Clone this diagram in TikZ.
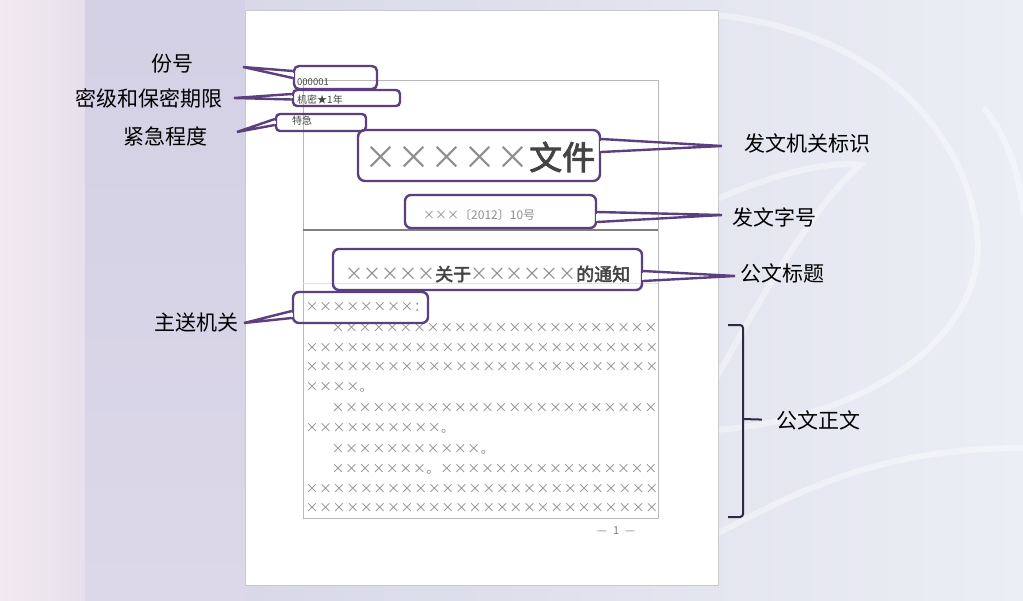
\documentclass[tikz,border=0pt]{standalone}
\usepackage{fontspec}
\setmainfont{Noto Sans CJK SC}
\newfontfamily\cjkbold[FakeBold=2.5]{Noto Sans CJK SC}
\usetikzlibrary{calc}
\definecolor{callpurple}{HTML}{5B3F7E}
\definecolor{bracecol}{HTML}{2E2844}
\definecolor{xgray}{HTML}{8E8E8E}
\definecolor{docdark}{HTML}{444444}
\definecolor{framegray}{HTML}{B8B8B8}
\newcommand\xs[1]{\foreach \k in {1,...,#1}{\makebox[13.6pt]{×}}}
\newcommand\jh{\makebox[13.6pt][l]{。}}
\newcommand\ind{\hspace*{26pt}}
\tikzset{
  lbl/.style={inner sep=0pt, text=black, font=\fontsize{21}{25}\selectfont},
  cbox/.style={draw=callpurple, line width=2.4pt, rounded corners=5pt, inner sep=0pt},
  cline/.style={draw=callpurple, line width=2.4pt, line join=miter},
  cover/.style={draw=white, line width=3pt},
  body/.style={anchor=west, inner sep=0pt, text=xgray, font=\fontsize{13}{14}\selectfont},
  smalltxt/.style={anchor=west, inner sep=0pt, text=docdark},
  frameline/.style={draw=framegray, line width=0.8pt},
  swirl/.style={draw=white, line width=6pt, opacity=0.4, line cap=round}
}
\begin{document}
\begin{tikzpicture}[x=1pt,y=-1pt]
\useasboundingbox (0,0) rectangle (1023,600);
% background
\fill[color={rgb,255:red,227;green,227;blue,238}] (0,0) rectangle (1023,600);
\shade[left color={rgb,255:red,243;green,234;blue,240}, right color={rgb,255:red,231;green,224;blue,236}] (0,0) rectangle (85,600);
\shade[top color={rgb,255:red,212;green,208;blue,229}, bottom color={rgb,255:red,220;green,216;blue,233}] (85,0) rectangle (245,600);
\shade[left color={rgb,255:red,216;green,216;blue,231}, right color={rgb,255:red,236;green,238;blue,245}] (245,0) rectangle (1023,600);
% swirls
\draw[swirl] (700,14) .. controls (850,22) and (960,110) .. (977,230) .. controls (990,340) and (860,420) .. (715,430);
\draw[swirl] (715,380) .. controls (760,300) and (810,210) .. (860,165) .. controls (820,160) and (760,180) .. (715,200);
\draw[swirl] (715,535) .. controls (800,490) and (880,448) .. (1023,448);
\draw[swirl] (985,110) .. controls (1010,140) and (1020,180) .. (1023,210);
% paper
\fill[white] (245,10) rectangle (718,585);
\draw[color={rgb,255:red,200;green,200;blue,205}, line width=0.6pt] (245,10) rectangle (718,585);
% inner frame
\draw[frameline] (303,80) rectangle (658,518);
\draw[draw=gray, line width=1.3pt] (303,230) -- (658,230);
\draw[draw={rgb,255:red,225;green,225;blue,225}, line width=0.6pt] (303,283) -- (658,283);
% header texts
\node[smalltxt, font=\fontsize{9.5}{10}\selectfont] (t1) at (297,82) {000001};
\node[smalltxt, font=\fontsize{10}{11}\selectfont] (t2) at (297,100) {机密★1年};
\node[smalltxt, font=\fontsize{10}{11}\selectfont] (t3) at (292,121) {特急};
\node[anchor=west, inner sep=0pt, font=\fontsize{33}{36}\selectfont] (t4) at (364,157)
  {\textcolor{xgray}{\foreach \k in {1,...,5}{\makebox[33pt]{×}}}\textcolor{docdark}{\cjkbold 文件}};
\node[smalltxt, text=xgray, font=\fontsize{12}{13}\selectfont] (t5) at (423,215) {×××〔2012〕10号};
\node[anchor=west, inner sep=0pt, font=\fontsize{18}{20}\selectfont] (t6) at (345,274)
  {\textcolor{xgray}{\foreach \k in {1,...,5}{\makebox[18pt]{×}}}\textcolor{docdark}{\cjkbold 关于}\textcolor{xgray}{\foreach \k in {1,...,6}{\makebox[17.5pt]{×}}}\textcolor{docdark}{\cjkbold 的通知}};
\node[body] (t7) at (305,307) {\xs{8}：};
% body
\node[body] (r1) at (305,328) {\ind\xs{24}};
\node[body] (r2) at (305,348) {\xs{26}};
\node[body] (r3) at (305,367) {\xs{26}};
\node[body] (r4) at (305,387) {\xs{4}\jh};
\node[body] (r5) at (305,408) {\ind\xs{24}};
\node[body] (r6) at (305,428) {\xs{10}\jh};
\node[body] (r7) at (305,449) {\ind\xs{11}\jh};
\node[body] (r8) at (305,469) {\ind\xs{7}\jh\xs{16}};
\node[body] (r9) at (305,489) {\xs{26}};
\node[body] (r10) at (305,508) {\xs{26}};
\node[smalltxt, text=gray, font=\fontsize{11}{12}\selectfont] (pg) at (597,531) {—\hspace{6pt}1\hspace{6pt}—};
% labels
\node[lbl] (lfen) at (172,64) {份号};
\node[lbl] (lmi) at (149,98) {密级和保密期限};
\node[lbl] (ljin) at (165,136) {紧急程度};
\node[lbl] (lfa) at (807,143) {发文机关标识};
\node[lbl] (lzi) at (774,217) {发文字号};
\node[lbl] (lbt) at (782,273) {公文标题};
\node[lbl] (lzs) at (196,323) {主送机关};
\node[lbl] (lzw) at (818,420) {公文正文};
% callout boxes
\node[cbox, minimum width=83pt, minimum height=23pt] (b1) at (335.5,77.5) {};
\node[cbox, rounded corners=4pt, minimum width=107pt, minimum height=16pt] (b2) at (346.5,98) {};
\node[cbox, rounded corners=4pt, minimum width=90pt, minimum height=17pt] (b3) at (321,122.5) {};
\node[cbox, rounded corners=7pt, minimum width=242pt, minimum height=51pt] (b4) at (479,155.5) {};
\node[cbox, rounded corners=6pt, minimum width=191pt, minimum height=33pt] (b5) at (500.5,211.5) {};
\node[cbox, rounded corners=6pt, minimum width=309pt, minimum height=41pt] (b6) at (487.5,269.5) {};
\node[cbox, rounded corners=6pt, minimum width=135pt, minimum height=31pt] (b7) at (360.5,307.5) {};
% pointer apexes
\coordinate (p1) at (243,67);
\coordinate (p2) at (234,98);
\coordinate (p3) at (237,132);
\coordinate (p4) at (722,146);
\coordinate (p5) at (722,215);
\coordinate (p6) at (735,276);
\coordinate (p7) at (244,323);
% covers
\draw[cover] ([yshift=5pt]b1.west) -- ([yshift=1pt]b1.west);
\draw[cover] ([yshift=2.5pt]b2.west) -- ([yshift=0pt]b2.west);
\draw[cover] ([yshift=2pt]b3.west) -- ([yshift=-1pt]b3.west);
\draw[cover] ([yshift=15pt]b4.east) -- ([yshift=5pt]b4.east);
\draw[cover] ([yshift=-2pt]b5.east) -- ([yshift=-9pt]b5.east);
\draw[cover] ([yshift=-3pt]b6.east) -- ([yshift=-10pt]b6.east);
\draw[cover] ([yshift=-5pt]b7.west) -- ([yshift=-9pt]b7.west);
% pointers
\draw[cline] ([yshift=6.5pt]b1.west) -- (p1) -- ([yshift=-0.5pt]b1.west);
\draw[cline] ([yshift=4pt]b2.west) -- (p2) -- ([yshift=-1.5pt]b2.west);
\draw[cline] ([yshift=3.5pt]b3.west) -- (p3) -- ([yshift=-2.5pt]b3.west);
\draw[cline] ([yshift=16.5pt]b4.east) -- (p4) -- ([yshift=3.5pt]b4.east);
\draw[cline] ([yshift=-0.5pt]b5.east) -- (p5) -- ([yshift=-10.5pt]b5.east);
\draw[cline] ([yshift=-1.5pt]b6.east) -- (p6) -- ([yshift=-11.5pt]b6.east);
\draw[cline] ([yshift=-3.5pt]b7.west) -- (p7) -- ([yshift=-10.5pt]b7.west);
% brace
\coordinate (brtop) at (728,325);
\coordinate (brbot) at (728,517);
\coordinate (brmid) at (743,419);
\draw[bracecol, line width=2pt, rounded corners=3pt] (brtop) -- (743,325) -- (743,517) -- (brbot);
\draw[bracecol, line width=2pt, shorten >=14pt] (brmid) -- (lzw.west);
\end{tikzpicture}
\end{document}
